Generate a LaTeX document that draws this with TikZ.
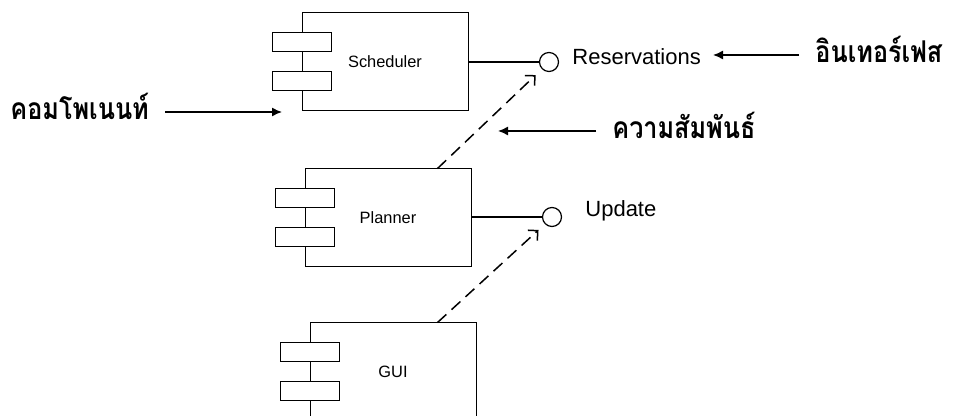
\documentclass[tikz,border=0pt]{standalone}
\usepackage{fontspec}
\setmainfont{Liberation Sans}
\newfontfamily\thaifont[Script=Thai, FakeStretch=0.84]{Loma}
\usetikzlibrary{arrows.meta, positioning}

\tikzset{
  comp/.style={draw, line width=0.5pt, minimum width=83pt, minimum height=49pt,
               inner sep=0pt, font=\fontsize{8.2}{10}\selectfont},
  port/.style={draw, fill=white, line width=0.5pt, minimum width=29.5pt,
               minimum height=9.5pt, inner sep=0pt},
  iface/.style={draw, circle, line width=0.6pt, minimum size=9.5pt, inner sep=0pt},
  ifname/.style={anchor=base west, inner sep=0pt, font=\fontsize{11}{13}\selectfont},
  thainote/.style={anchor=base west, inner ysep=0pt, inner xsep=8pt,
                   font=\thaifont\bfseries\fontsize{15}{18}\selectfont},
  note/.style={-{Latex[length=5pt, width=4.5pt]}, line width=0.7pt},
  depend/.style={-{Straight Barb[length=3.5pt, width=7pt]}, dash pattern=on 6pt off 3.5pt,
                 line width=0.75pt},
  link/.style={line width=0.8pt}
}

\begin{document}
\begin{tikzpicture}[x=0.5pt, y=-0.5pt]
  \clip (0,0) rectangle (957,416);
  \useasboundingbox (0,0) rectangle (957,416);

  % components
  \node[comp] (sched) at (385,62) {Scheduler};
  \node[comp] (plan) at (388,218) {Planner};
  \node[comp] (gui) at (393,372) {GUI};
  \foreach \c in {sched, plan, gui} {
    \node[port] (\c-top) at ([yshift=-14.75pt]\c.north west) {};
    \node[port] (\c-bot) at ([yshift=-34.25pt]\c.north west) {};
  }

  % interfaces
  \node[iface] (ires) at (549,62) {};
  \node[iface] (iupd) at (552,217) {};
  \draw[link] (sched.east |- ires) -- (ires);
  \draw[link] (plan.east |- iupd) -- (iupd);
  \node[ifname] (res) at (572,65) {Reservations};
  \node[ifname] (upd) at (585,217) {Update};

  % dependencies
  \draw[depend, shorten >=4.3pt] ([xshift=66.5pt]plan.north west) -- (ires.south west);
  \draw[depend, shorten >=4.3pt] ([xshift=64pt]gui.north west) -- (iupd.south west);

  % notes
  \node[thainote] (comp-n) at (-6,120) {คอมโพเนนท์};
  \coordinate (comp-tip) at (282,112);
  \draw[note] (comp-n.east |- comp-tip) -- (comp-tip);

  \node[thainote] (if-n) at (799,63) {อินเทอร์เฟส};
  \coordinate (if-tip) at (713,55);
  \draw[note] (if-n.west |- if-tip) -- (if-tip);

  \node[thainote] (rel-n) at (596,139) {ความสัมพันธ์};
  \coordinate (rel-tip) at (498,131);
  \draw[note] (rel-n.west |- rel-tip) -- (rel-tip);
\end{tikzpicture}
\end{document}
